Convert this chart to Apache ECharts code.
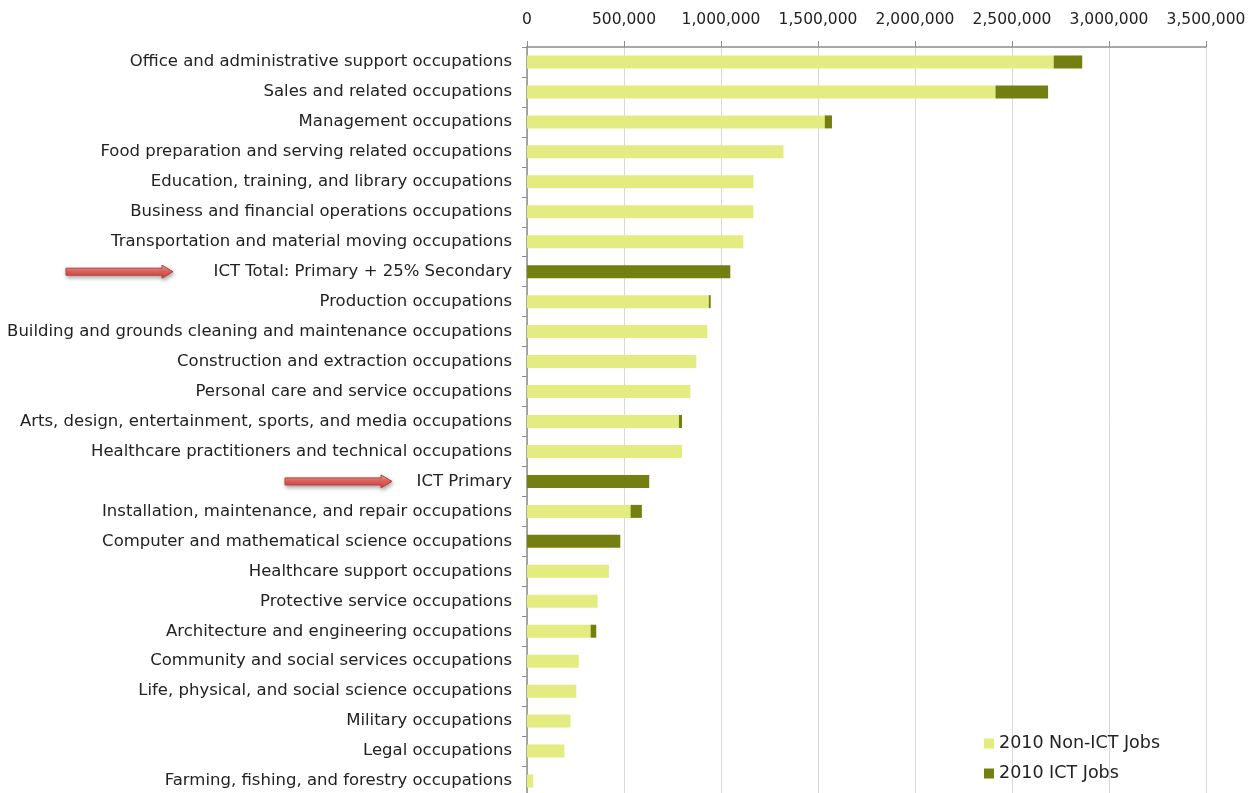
<!DOCTYPE html>
<html>
<head>
<meta charset="utf-8">
<script src="https://cdn.jsdelivr.net/npm/echarts@6/dist/echarts.min.js"></script>
<style>
  html, body { margin: 0; padding: 0; background: #fff; }
  #chart { width: 1254px; height: 793px; }
</style>
</head>
<body>
<div id="chart"></div>
<script>
// Occupation groups, largest first
const categories = [
  'Office and administrative support occupations',
  'Sales and related occupations',
  'Management occupations',
  'Food preparation and serving related occupations',
  'Education, training, and library occupations',
  'Business and financial operations occupations',
  'Transportation and material moving occupations',
  'ICT Total: Primary + 25% Secondary',
  'Production occupations',
  'Building and grounds cleaning and maintenance occupations',
  'Construction and extraction occupations',
  'Personal care and service occupations',
  'Arts, design, entertainment, sports, and media occupations',
  'Healthcare practitioners and technical occupations',
  'ICT Primary',
  'Installation, maintenance, and repair occupations',
  'Computer and mathematical science occupations',
  'Healthcare support occupations',
  'Protective service occupations',
  'Architecture and engineering occupations',
  'Community and social services occupations',
  'Life, physical, and social science occupations',
  'Military occupations',
  'Legal occupations',
  'Farming, fishing, and forestry occupations'
];

// 2010 jobs outside ICT occupations
const nonIctJobs = [
  2715000, 2415000, 1535000, 1322000, 1167000, 1167000, 1115000, 0,
  937000, 930000, 873000, 842000, 783000, 799000, 0,
  534000, 0, 422000, 364000, 328000, 267000, 254000, 224000, 193000, 32000
];

// 2010 ICT jobs
const ictJobs = [
  147000, 271000, 37000, 0, 0, 0, 0, 1048000,
  10000, 0, 0, 0, 16000, 0, 630000,
  58000, 481000, 0, 0, 29000, 0, 0, 0, 0, 0
];

const seriesNames = ['2010 Non-ICT Jobs', '2010 ICT Jobs'];
const xTicks = { min: 0, max: 3500000, interval: 500000 };

// Rows that get a pointer arrow in front of their label
const highlighted = ['ICT Total: Primary + 25% Secondary', 'ICT Primary'];

const FONT = 'DejaVu Sans';
const chart = echarts.init(document.getElementById('chart'));

chart.setOption({
  animation: false,
  textStyle: { fontFamily: FONT },
  // the last band runs a little past the bottom edge of the canvas
  grid: { left: 527, right: 48, top: 47, height: 749, containLabel: false, outerBoundsMode: 'none' },
  legend: {
    orient: 'vertical',
    left: 979,
    top: 728,
    itemWidth: 10,
    itemHeight: 10,
    itemGap: 9,
    itemStyle: { borderWidth: 0 },
    icon: 'rect',
    textStyle: { fontFamily: FONT, fontSize: 17.5, color: '#222', lineHeight: 21 },
    data: seriesNames
  },
  xAxis: {
    type: 'value',
    position: 'top',
    min: xTicks.min,
    max: xTicks.max,
    interval: xTicks.interval,
    axisLine: { show: true, lineStyle: { color: '#8c8c8c', width: 1.5 } },
    axisTick: { show: true, length: 6, lineStyle: { color: '#8c8c8c' } },
    splitLine: { show: true, lineStyle: { color: '#d9d9d9', width: 1 } },
    axisLabel: {
      margin: 19,
      fontSize: 15.5,
      color: '#222',
      formatter: v => v.toLocaleString('en-US')
    }
  },
  yAxis: {
    type: 'category',
    inverse: true,
    data: categories,
    axisLine: { show: true, lineStyle: { color: '#8c8c8c', width: 1.5 } },
    axisTick: { show: true, length: 5, lineStyle: { color: '#8c8c8c' } },
    axisLabel: { margin: 15, fontSize: 16.5, color: '#222' }
  },
  series: [
    {
      name: seriesNames[0],
      type: 'bar',
      stack: 'jobs',
      barWidth: 13,
      itemStyle: { color: '#e2ec80' },
      data: nonIctJobs
    },
    {
      name: seriesNames[1],
      type: 'bar',
      stack: 'jobs',
      barWidth: 13,
      itemStyle: { color: '#737f10' },
      data: ictJobs
    }
  ]
});

// Red pointer arrows, placed on the rows they point at
const arrowStarts = { 'ICT Total: Primary + 25% Secondary': [66, 173], 'ICT Primary': [285, 392] };
const arrows = highlighted.map(name => {
  const y = chart.convertToPixel({ yAxisIndex: 0 }, name);
  const [x0, x1] = arrowStarts[name];
  const headLen = 11, shaft = 3.5, head = 6.5;
  return {
    type: 'polygon',
    shape: {
      points: [
        [x0, y - shaft], [x1 - headLen, y - shaft], [x1 - headLen, y - head],
        [x1, y], [x1 - headLen, y + head], [x1 - headLen, y + shaft], [x0, y + shaft]
      ]
    },
    style: {
      fill: new echarts.graphic.LinearGradient(0, 0, 0, 1, [
        { offset: 0, color: '#f6b0ad' },
        { offset: 0.5, color: '#e6625d' },
        { offset: 1, color: '#cc4540' }
      ]),
      stroke: '#bd3d38',
      lineWidth: 1,
      shadowBlur: 4,
      shadowOffsetX: 1,
      shadowOffsetY: 2,
      shadowColor: 'rgba(0,0,0,0.35)'
    }
  };
});
chart.setOption({ graphic: arrows });
</script>
</body>
</html>
